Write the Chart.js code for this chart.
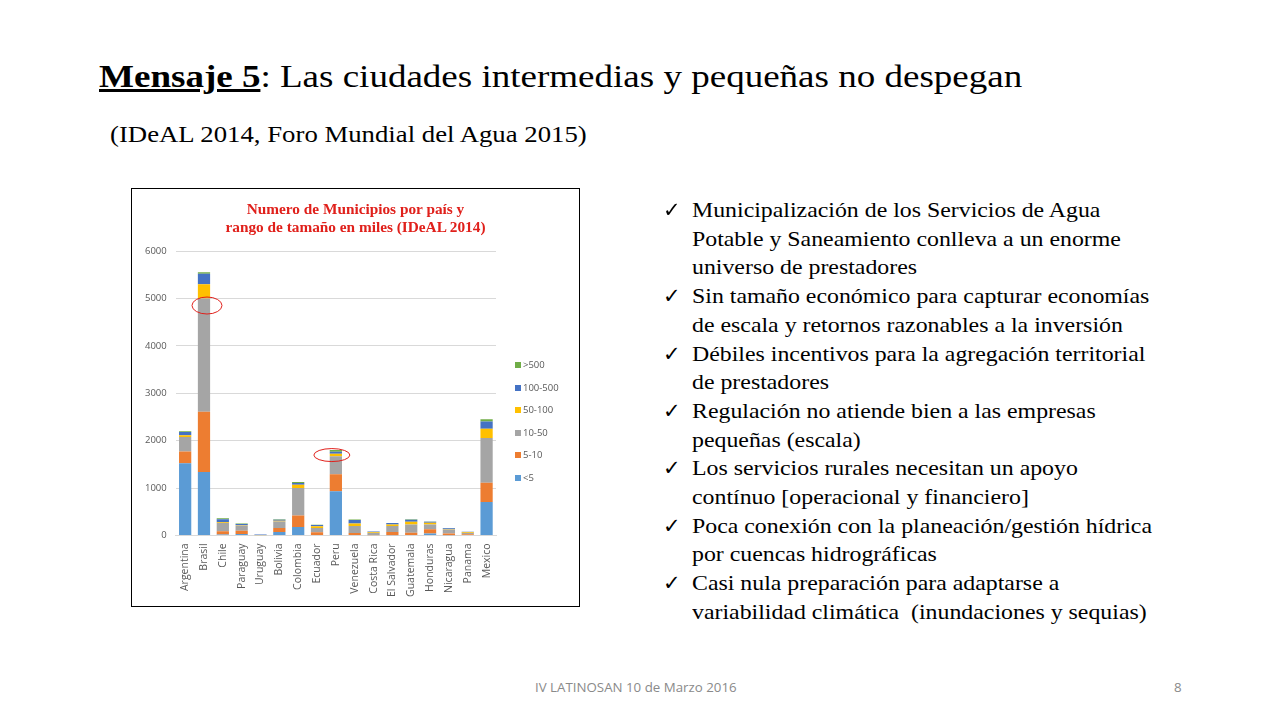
<!DOCTYPE html>
<html>
<head>
<meta charset="utf-8">
<script src="https://cdn.jsdelivr.net/npm/chart.js@4"></script>
<style>
  body { margin: 0; width: 1280px; height: 720px; background: #fff; position: relative; overflow: hidden; font-family: 'Liberation Serif', 'Times New Roman', serif; }
  .stretch { transform-origin: left top; white-space: nowrap; }
  .title { position: absolute; left: 99px; top: 58px; font-size: 32px; color: #000; transform: scaleX(1.157); }
  .title b { text-decoration: underline; }
  .sub { position: absolute; left: 110px; top: 122px; font-size: 23px; color: #000; transform: scaleX(1.163); }
  .box { position: absolute; left: 131px; top: 188px; width: 447px; height: 417px; border: 1px solid #000; }
  .box canvas { position: absolute; left: 0; top: 0; }
  .ctitle { position: absolute; left: 0; width: 447px; top: 11px; text-align: center; color: #E0201B; font-weight: bold; font-size: 15.3px; line-height: 18px; }
  .legend { position: absolute; left: 383px; top: 169px; font-family: 'Open Sans', sans-serif; font-size: 9.5px; color: #595959; }
  .legend div { height: 22.5px; line-height: 14px; }
  .legend span { display: inline-block; width: 6px; height: 6px; margin-right: 2px; vertical-align: 0px; }
  ul { position: absolute; left: 663px; top: 196px; margin: 0; padding: 0; list-style: none; font-size: 21px; line-height: 28.7px; }
  ul li { padding-left: 29px; position: relative; }
  ul li:before { content: '\2713'; position: absolute; left: 0; top: 0; font-family: 'DejaVu Sans', sans-serif; font-size: 21px; font-weight: bold; }
  ul li span { display: inline-block; transform: scaleX(1.135); transform-origin: left top; white-space: nowrap; }
  .foot { position: absolute; top: 678px; font-family: 'Open Sans', sans-serif; font-size: 13.3px; color: #8a8a8a; }
</style>
</head>
<body>
<div class="title stretch"><b>Mensaje 5</b>: Las ciudades intermedias y pequeñas no despegan</div>
<div class="sub stretch">(IDeAL 2014, Foro Mundial del Agua 2015)</div>

<div class="box">
  <canvas id="chart" width="447" height="417"></canvas>
  <div class="ctitle">Numero de Municipios por país y<br>rango de tamaño en miles (IDeAL 2014)</div>
  <div class="legend" id="legend"></div>
</div>

<ul>
  <li><span>Municipalización de los Servicios de Agua<br>Potable y Saneamiento conlleva a un enorme<br>universo de prestadores</span></li>
  <li><span>Sin tamaño económico para capturar economías<br>de escala y retornos razonables a la inversión</span></li>
  <li><span>Débiles incentivos para la agregación territorial<br>de prestadores</span></li>
  <li><span>Regulación no atiende bien a las empresas<br>pequeñas (escala)</span></li>
  <li><span>Los servicios rurales necesitan un apoyo<br>contínuo [operacional y financiero]</span></li>
  <li><span>Poca conexión con la planeación/gestión hídrica<br>por cuencas hidrográficas</span></li>
  <li><span>Casi nula preparación para adaptarse a<br>variabilidad climática&nbsp; (inundaciones y sequias)</span></li>
</ul>

<div class="foot" style="left:535px">IV LATINOSAN 10 de Marzo 2016</div>
<div class="foot" style="left:1174px">8</div>

<script>
// Datos: municipios por país y rango de tamaño (miles de hab.)
const paises = ['Argentina', 'Brasil', 'Chile', 'Paraguay', 'Uruguay', 'Bolivia', 'Colombia', 'Ecuador', 'Peru',
  'Venezuela', 'Costa Rica', 'El Salvador', 'Guatemala', 'Honduras', 'Nicaragua', 'Panama', 'Mexico'];

const menos5   = [1520, 1340, 20, 30, 0, 70, 175, 10, 930, 10, 0, 5, 10, 40, 5, 10, 705];
const de5a10   = [250, 1270, 70, 70, 0, 85, 245, 55, 360, 40, 5, 65, 45, 90, 35, 15, 405];
const de10a50  = [305, 2390, 170, 110, 6, 140, 580, 90, 380, 150, 45, 130, 175, 100, 85, 25, 945];
const de50a100 = [40, 300, 20, 10, 5, 15, 70, 40, 55, 50, 15, 30, 60, 35, 10, 15, 195];
const de100a500 = [65, 220, 60, 20, 7, 20, 35, 25, 40, 75, 15, 30, 40, 25, 18, 10, 155];
const mas500   = [20, 30, 20, 10, 1, 10, 20, 5, 35, 10, 1, 2, 10, 5, 1, 2, 45];

const yTicks = [0, 1000, 2000, 3000, 4000, 5000, 6000];

// Elipses rojas (país, valor, desplazamiento horizontal)
const marcas = [
  { pais: 'Brasil', valor: 4850, dx: 3, rx: 15, ry: 8.5 },
  { pais: 'Peru', valor: 1695, dx: -4, rx: 18, ry: 6.5 },
];

const series = [
  { label: '<5', data: menos5, color: '#5B9BD5' },
  { label: '5-10', data: de5a10, color: '#ED7D31' },
  { label: '10-50', data: de10a50, color: '#A5A5A5' },
  { label: '50-100', data: de50a100, color: '#FFC000' },
  { label: '100-500', data: de100a500, color: '#4472C4' },
  { label: '>500', data: mas500, color: '#70AD47' },
];

// Leyenda HTML (orden invertido como en Excel)
const legend = document.getElementById('legend');
series.slice().reverse().forEach(s => {
  const d = document.createElement('div');
  d.innerHTML = `<span style="background:${s.color}"></span>${s.label.replace('<', '&lt;').replace('>', '&gt;')}`;
  legend.appendChild(d);
});

const elipses = {
  id: 'elipses',
  afterDatasetsDraw(chart) {
    const { ctx, scales } = chart;
    ctx.save();
    ctx.strokeStyle = '#E0201B';
    ctx.lineWidth = 1;
    marcas.forEach(m => {
      const x = scales.x.getPixelForValue(paises.indexOf(m.pais)) + m.dx;
      const y = scales.y.getPixelForValue(m.valor);
      ctx.beginPath();
      ctx.ellipse(x, y, m.rx, m.ry, 0, 0, Math.PI * 2);
      ctx.stroke();
    });
    ctx.restore();
  }
};

new Chart(document.getElementById('chart'), {
  type: 'bar',
  data: {
    labels: paises,
    datasets: series.map(s => ({
      label: s.label,
      data: s.data,
      backgroundColor: s.color,
      borderWidth: 0,
      categoryPercentage: 1,
      barPercentage: 0.65,
    })),
  },
  options: {
    responsive: false,
    animation: false,
    layout: { padding: { left: 4, right: 83, top: 62, bottom: 9 } },
    plugins: {
      legend: { display: false },
      tooltip: { enabled: false },
      title: { display: false },
    },
    scales: {
      x: {
        stacked: true,
        grid: { display: false },
        border: { color: '#D9D9D9' },
        ticks: {
          color: '#595959',
          font: { family: 'Open Sans', size: 10.5 },
          minRotation: 90,
          maxRotation: 90,
          autoSkip: false,
          padding: 0,
        },
      },
      y: {
        stacked: true,
        min: 0,
        max: 6000,
        afterBuildTicks: axis => { axis.ticks = yTicks.map(v => ({ value: v })); },
        grid: { color: '#D9D9D9', drawTicks: false },
        border: { display: false },
        ticks: {
          color: '#595959',
          font: { family: 'Open Sans', size: 9.5 },
          padding: 9,
          callback: v => String(v),
        },
      },
    },
  },
  plugins: [elipses],
});
</script>
</body>
</html>
